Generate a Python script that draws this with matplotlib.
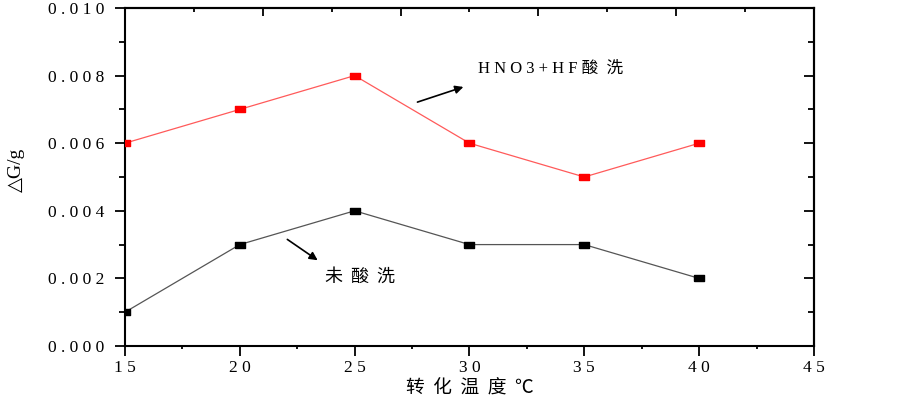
import matplotlib
matplotlib.use('Agg')

import matplotlib.pyplot as plt
from matplotlib.ticker import FixedLocator, FuncFormatter

plt.rcParams['font.family'] = ['Liberation Serif', 'DejaVu Sans', 'Noto Sans CJK SC']

# data
temps = [15, 20, 25, 30, 35, 40]
acid_washed = [0.006, 0.007, 0.008, 0.006, 0.005, 0.006]   # HNO3+HF酸洗
not_washed = [0.001, 0.003, 0.004, 0.003, 0.003, 0.002]    # 未酸洗

x_ticks = [15, 20, 25, 30, 35, 40, 45]
y_ticks = [0.000, 0.002, 0.004, 0.006, 0.008, 0.010]


def spaced(s, gap=' '):
    return gap.join(s)


# wide, flat square marker like the original
box = [(-1.6, -1), (1.6, -1), (1.6, 1), (-1.6, 1), (-1.6, -1)]

fig = plt.figure(figsize=(9.03, 3.98), dpi=100)
ax = fig.add_axes([0.1384, 0.1307, 0.7630, 0.8492])

ax.plot(temps, acid_washed, color='#ff5a5a', lw=0.9, marker=box, ms=7.5,
        mfc='#ff0000', mec='#ff0000', zorder=3)
ax.plot(temps, not_washed, color='#555555', lw=0.9, marker=box, ms=7.5,
        mfc='#000000', mec='#000000', zorder=3)

ax.set_xlim(15, 45)
ax.set_ylim(0, 0.010)

ax.xaxis.set_major_locator(FixedLocator(x_ticks))
ax.xaxis.set_minor_locator(FixedLocator([17.5, 22.5, 27.5, 32.5, 37.5, 42.5]))
ax.yaxis.set_major_locator(FixedLocator(y_ticks))
ax.yaxis.set_minor_locator(FixedLocator([0.001, 0.003, 0.005, 0.007, 0.009]))
ax.xaxis.set_major_formatter(FuncFormatter(lambda v, p: spaced('%d' % v)))
ax.yaxis.set_major_formatter(FuncFormatter(lambda v, p: spaced('%.3f' % v)))

ax.tick_params(which='major', direction='out', length=7, width=1.3, labelsize=12.5)
ax.tick_params(axis='y', which='major', pad=8)
ax.tick_params(axis='x', which='major', pad=3)
ax.tick_params(axis='y', which='minor', direction='out', length=4.5, width=1.3)
ax.tick_params(axis='x', which='minor', direction='out', length=2.5, width=1.3)
for sp in ax.spines.values():
    sp.set_linewidth(1.5)

# top axis: inward ticks only
top = ax.secondary_xaxis('top')
top.xaxis.set_major_locator(FixedLocator([21, 27, 33, 39]))
top.xaxis.set_minor_locator(FixedLocator([18, 24, 30, 36, 42]))
top.tick_params(which='major', direction='in', length=6, width=1.3, labeltop=False)
top.tick_params(which='minor', direction='in', length=3, width=1.3)
top.spines['top'].set_linewidth(1.5)

# right axis: inward ticks only
right = ax.secondary_yaxis('right')
right.yaxis.set_major_locator(FixedLocator(y_ticks[1:-1]))
right.yaxis.set_minor_locator(FixedLocator([0.001, 0.003, 0.005, 0.007, 0.009]))
right.tick_params(which='major', direction='in', length=7, width=1.3, labelright=False)
right.tick_params(which='minor', direction='in', length=4.5, width=1.3)
right.spines['right'].set_linewidth(1.5)

ax.set_xlabel(spaced('转化温度℃', '  '), fontsize=13.5, labelpad=1,
              family=['Noto Sans CJK SC', 'DejaVu Sans'])
fig.text(16 / 903, 1 - 170 / 398, '△G/g', rotation=90, ha='center', va='center',
         fontsize=14, family=['Liberation Serif', 'DejaVu Sans'])

ax.annotate('', xy=(29.85, 0.00769), xytext=(27.62, 0.00719),
            arrowprops=dict(arrowstyle='-|>', color='black', lw=1.2, mutation_scale=12))
ax.text(30.37, 0.00820, spaced('HNO3+HF') + ' 酸  洗', fontsize=12, va='center', ha='left',
        family=['Liberation Serif', 'Noto Sans CJK SC'])

ax.annotate('', xy=(23.49, 0.00249), xytext=(21.97, 0.00320),
            arrowprops=dict(arrowstyle='-|>', color='black', lw=1.2, mutation_scale=12))
ax.text(23.71, 0.00204, spaced('未酸洗', '  '), fontsize=13, va='center', ha='left',
        family=['Noto Sans CJK SC', 'DejaVu Sans'])

plt.savefig('out.png', dpi=100)
plt.close(fig)
